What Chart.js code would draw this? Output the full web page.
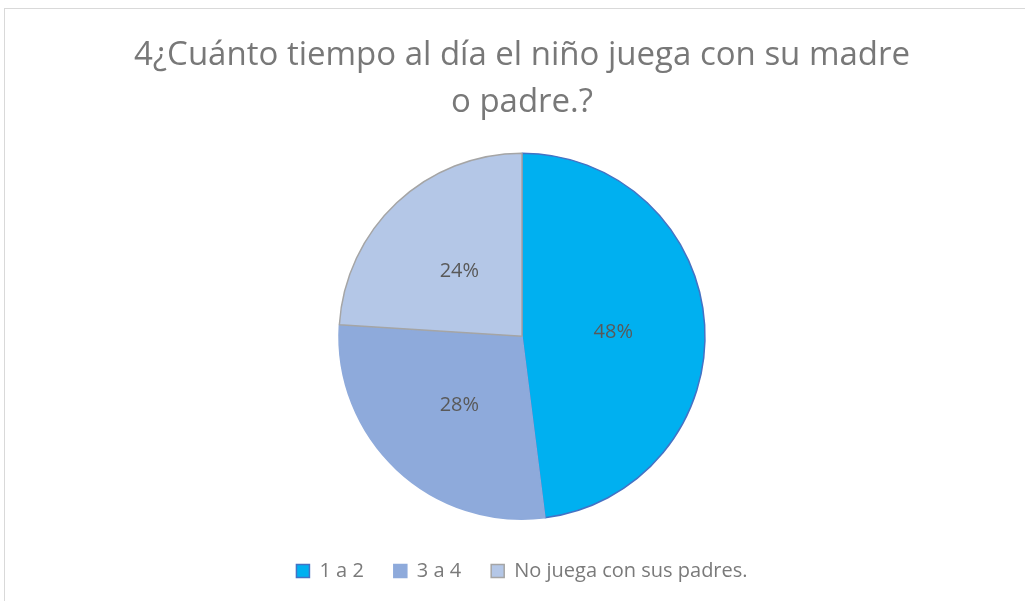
<!DOCTYPE html>
<html>
<head>
<meta charset="utf-8">
<script src="https://cdn.jsdelivr.net/npm/chart.js@4.4.1/dist/chart.umd.min.js"></script>
<style>
  body { margin: 0; background: #fff; overflow: hidden; }
  #marco { position: absolute; left: 4px; top: 8px; width: 1100px; height: 700px; border: 1px solid #d9d9d9; }
  #caja { position: absolute; left: 0; top: 0; width: 1025px; height: 601px; }
</style>
</head>
<body>
<div id="marco"></div>
<div id="caja"><canvas id="grafico"></canvas></div>
<script>
// Datos del gráfico
const categorias = ['1 a 2', '3 a 4', 'No juega con sus padres.'];
const porcentajes = [48, 28, 24];
const tituloLineas = ['4¿Cuánto tiempo al día el niño juega con su madre', 'o padre.?'];

const colores = ['#00B0F0', '#8EAADB', '#B4C7E7'];
const bordes = ['#4472C4', '#8EAADB', '#A5A5A5'];

// Etiquetas de porcentaje dentro de cada porción
const etiquetasPlugin = {
    id: 'etiquetas',
    afterDatasetsDraw(chart) {
        const ctx = chart.ctx;
        const meta = chart.getDatasetMeta(0);
        ctx.save();
        ctx.font = '20px "Open Sans"';
        ctx.fillStyle = '#595959';
        ctx.textAlign = 'center';
        ctx.textBaseline = 'middle';
        meta.data.forEach((arc, i) => {
            const p = arc.tooltipPosition();
            ctx.fillText(porcentajes[i] + '%', p.x, p.y + 2);
        });
        ctx.restore();
    }
};

new Chart(document.getElementById('grafico'), {
    type: 'pie',
    data: {
        labels: categorias,
        datasets: [{
            data: porcentajes,
            backgroundColor: colores,
            borderColor: bordes,
            borderWidth: 1.5,
            radius: 183
        }]
    },
    options: {
        responsive: true,
        maintainAspectRatio: false,
        animation: false,
        layout: { padding: { left: 19, bottom: 10 } },
        plugins: {
            title: {
                display: true,
                text: tituloLineas,
                color: '#787878',
                font: { family: 'Open Sans', size: 33, weight: 'normal', lineHeight: 1.43 },
                padding: { top: 32, bottom: 15 }
            },
            legend: {
                position: 'bottom',
                labels: {
                    color: '#7a7a7a',
                    font: { family: 'Open Sans', size: 20 },
                    boxWidth: 13,
                    boxHeight: 13,
                    padding: 30
                }
            },
            tooltip: { enabled: false }
        }
    },
    plugins: [etiquetasPlugin]
});
</script>
</body>
</html>
